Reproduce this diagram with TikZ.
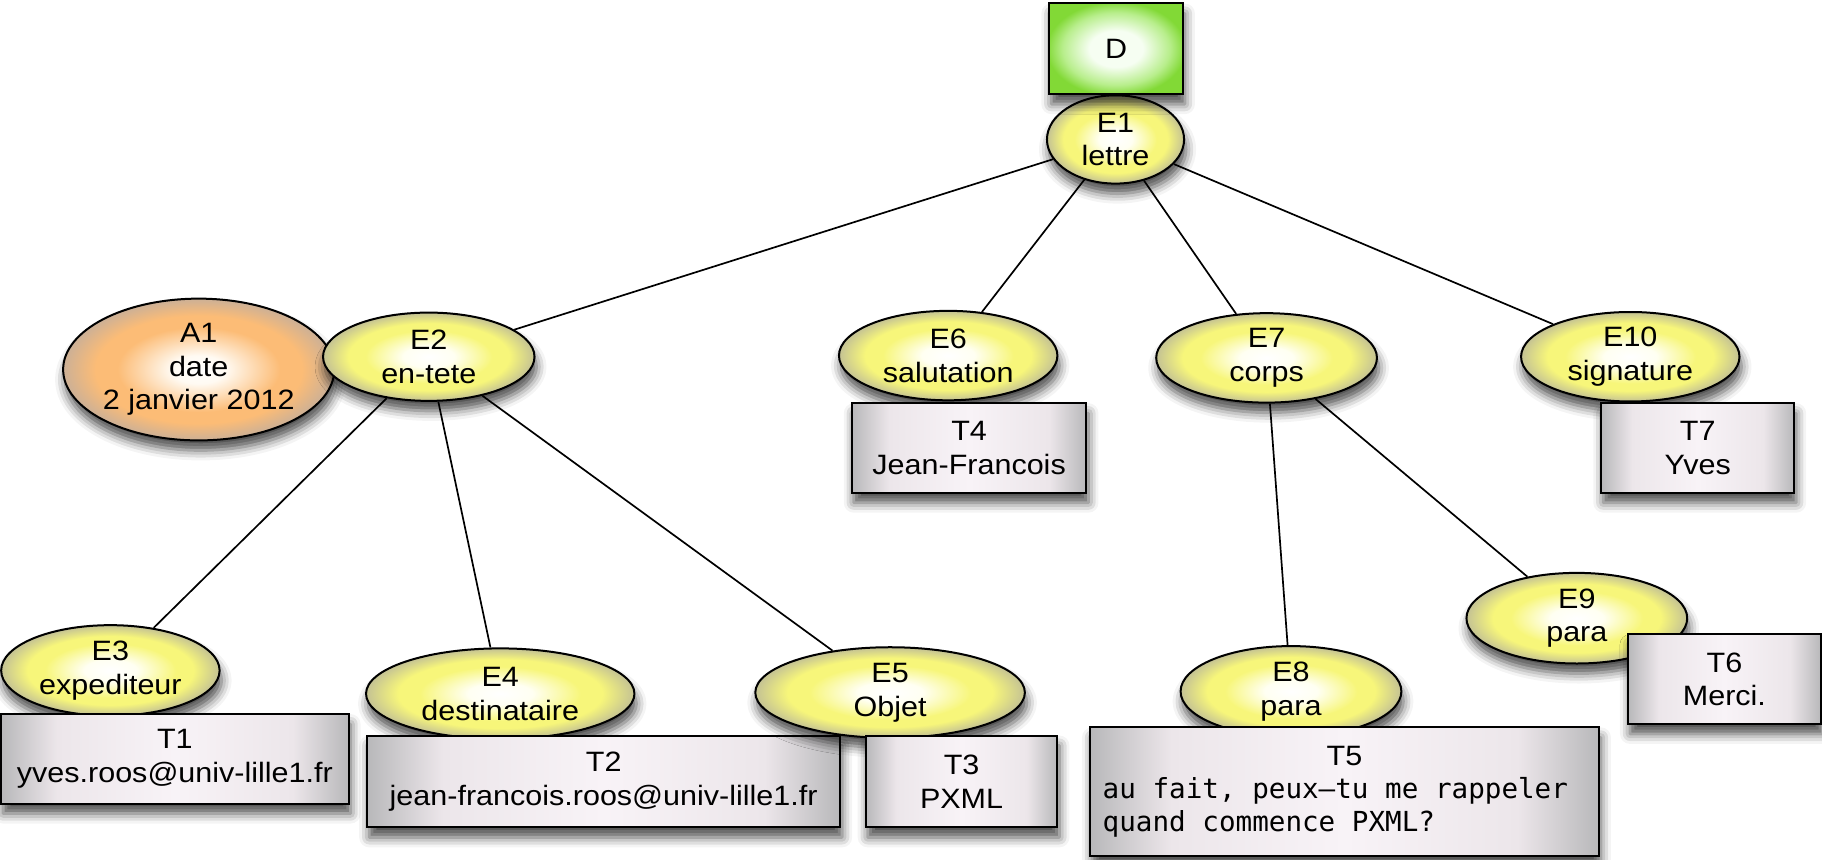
\documentclass[tikz,border=0pt]{standalone}
\usepackage{fontspec}
\setmainfont{Liberation Sans}[FakeStretch=1.09]
\newfontfamily\monofont{DejaVu Sans Mono}
\usetikzlibrary{shapes.geometric, shadows.blur}

\definecolor{ylwin}{RGB}{255,255,242}
\definecolor{ylwmid}{RGB}{247,246,122}
\definecolor{ylwedge}{RGB}{196,194,148}
\definecolor{orgin}{RGB}{255,250,242}
\definecolor{orgmid}{RGB}{252,188,118}
\definecolor{orgedge}{RGB}{204,176,150}
\definecolor{gryin}{RGB}{248,243,247}
\definecolor{grymid}{RGB}{236,230,234}
\definecolor{gryedge}{RGB}{184,184,186}
\definecolor{grnin}{RGB}{246,254,242}
\definecolor{grnmid}{RGB}{184,238,140}
\definecolor{grnedge}{RGB}{130,217,54}

\pgfdeclareradialshading{yelball}{\pgfpoint{0bp}{0bp}}{color(0bp)=(white); color(6bp)=(ylwin); color(15bp)=(ylwmid); color(19bp)=(ylwmid); color(25bp)=(ylwedge); color(50bp)=(ylwedge)}
\pgfdeclareradialshading{orgball}{\pgfpoint{0bp}{0bp}}{color(0bp)=(white); color(5bp)=(orgin); color(15bp)=(orgmid); color(19bp)=(orgmid); color(25bp)=(orgedge); color(50bp)=(orgedge)}
\pgfdeclarehorizontalshading{grybox}{100bp}{color(0bp)=(gryedge); color(25bp)=(gryedge); color(33bp)=(grymid); color(50bp)=(gryin); color(67bp)=(grymid); color(75bp)=(gryedge); color(100bp)=(gryedge)}
\pgfdeclareradialshading{grnbox}{\pgfpoint{0bp}{0bp}}{color(0bp)=(grnin); color(10bp)=(grnin); color(20bp)=(grnmid); color(26bp)=(grnedge); color(50bp)=(grnedge)}

\begin{document}
\begin{tikzpicture}[x=0.581pt, y=-0.581pt, every edge/.style={draw=black, line width=0.85pt}]
\tikzstyle{node box}=[draw=black, line width=1pt, inner sep=0pt, align=center,
  font=\fontsize{14}{16.8}\selectfont,
  blur shadow={shadow xshift=1pt, shadow yshift=-5pt, shadow blur radius=5pt, shadow opacity=70}]
\tikzstyle{elem node}=[node box, ellipse, shading=yelball]
\tikzstyle{attr node}=[node box, ellipse, shading=orgball]
\tikzstyle{text leaf}=[node box, rectangle, shading=grybox]
\tikzstyle{doc node}=[node box, rectangle, shading=grnbox]

% Size of one pixel of the picture
\def\dpx{0.581pt}

\useasboundingbox (0,0) rectangle (1568,740);

% Draw the root element and the document node
\node[elem node, minimum width=118*\dpx, minimum height=76*\dpx] (E1) at (960,120) {E1\\lettre};
\node[doc node, minimum width=115*\dpx, minimum height=78*\dpx] (D) at (960.5,42) {D};

% Draw the attribute and the second level elements
\node[attr node, minimum width=233*\dpx, minimum height=122*\dpx] (A1) at (171,318) {A1\\date\\2 janvier 2012};
\node[elem node, minimum width=182*\dpx, minimum height=76*\dpx] (E2) at (369,307) {E2\\en-tete};
\node[elem node, minimum width=188*\dpx, minimum height=77*\dpx] (E6) at (816,306) {E6\\salutation};
\node[elem node, minimum width=190*\dpx, minimum height=77*\dpx] (E7) at (1090,308) {E7\\corps};
\node[elem node, minimum width=188*\dpx, minimum height=77*\dpx] (E10) at (1403,307) {E10\\signature};
\node[text leaf, minimum width=202*\dpx, minimum height=77*\dpx] (T4) at (834,385.5) {T4\\Jean-Francois};
\node[text leaf, minimum width=166*\dpx, minimum height=77*\dpx] (T7) at (1461,385.5) {T7\\Yves};

% Draw the third level elements
\node[elem node, minimum width=188*\dpx, minimum height=78*\dpx] (E3) at (95,577) {E3\\expediteur};
\node[text leaf, minimum width=299*\dpx, minimum height=77*\dpx] (T1) at (150.5,653) {T1\\yves.roos@univ-lille1.fr};
\node[elem node, minimum width=231*\dpx, minimum height=78*\dpx] (E4) at (430.5,597) {E4\\destinataire};
\node[text leaf, minimum width=407*\dpx, minimum height=79*\dpx] (T2) at (519.5,672.5) {T2\\jean-francois.roos@univ-lille1.fr};
\node[elem node, minimum width=232*\dpx, minimum height=78*\dpx] (E5) at (766,596) {E5\\Objet};
\node[text leaf, minimum width=165*\dpx, minimum height=79*\dpx] (T3) at (827.5,672.5) {T3\\PXML};
\node[elem node, minimum width=190*\dpx, minimum height=78*\dpx] (E8) at (1111,595) {E8\\para};
\node[text leaf, minimum width=438*\dpx, minimum height=111*\dpx, text width=241.7pt, align=left,
  font=\fontsize{14}{16.5}\selectfont] (T5) at (1157,681.5)
  {\makebox[241.7pt]{T5}\\
   {\monofont\fontsize{13.8}{16.5}\selectfont\spaceskip=0.602em\relax
    \makebox[241.7pt][l]{au fait, peux–tu me rappeler}\\
    \makebox[241.7pt][l]{quand commence PXML?}}};
\node[elem node, minimum width=190*\dpx, minimum height=78*\dpx] (E9) at (1357,532) {E9\\para};
\node[text leaf, minimum width=166*\dpx, minimum height=77*\dpx] (T6) at (1484,584.5) {T6\\Merci.};

% Connect every element with its child elements
\foreach \source/\dest in {E1/E2, E1/E6, E1/E7, E1/E10, E2/E3, E2/E4, E2/E5, E7/E8, E7/E9}
  \path (\source) edge (\dest);

\end{tikzpicture}
\end{document}
